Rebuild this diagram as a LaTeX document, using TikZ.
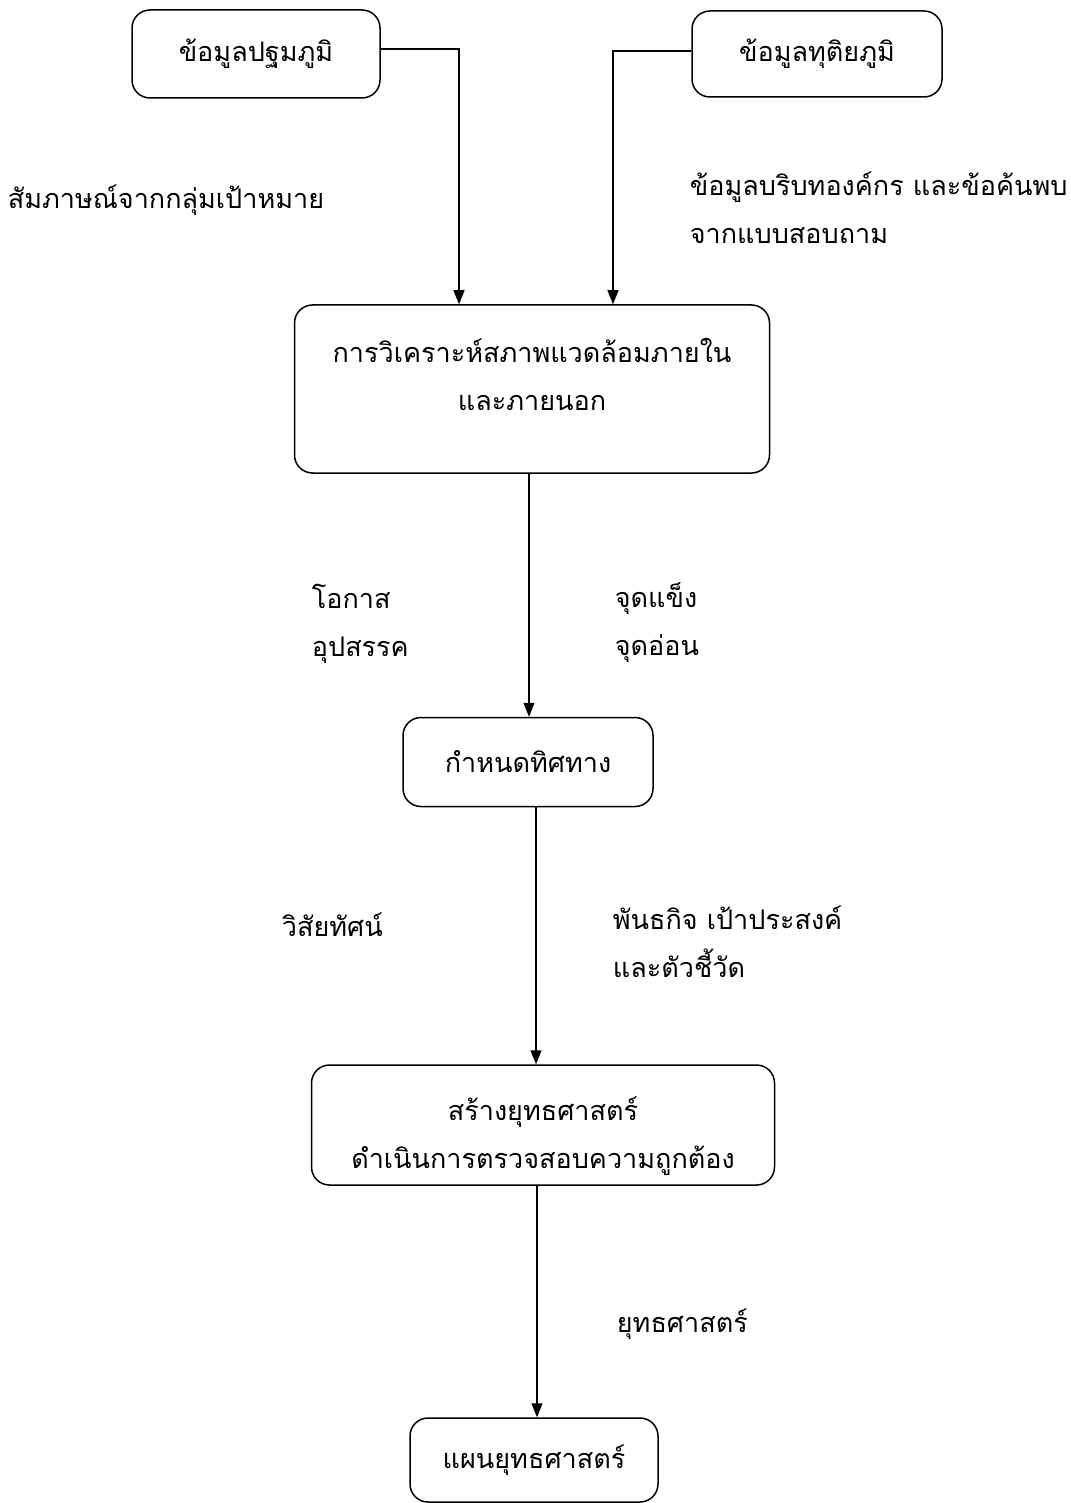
\documentclass[tikz,border=0pt]{standalone}
\usepackage{fontspec}
\usepackage{tikz}
\usetikzlibrary{arrows.meta}
\newfontfamily\thaifont[Script=Thai]{Loma}

\begin{document}
\begin{tikzpicture}[x=1pt,y=-1pt,->,>={Triangle[length=14pt,width=11pt]},line width=1.1pt,
    main node/.style={-,draw,rounded corners=18pt,line width=1.5pt,align=center,font=\thaifont\fontsize{27}{48}\selectfont},
    text node/.style={align=left,anchor=west,font=\thaifont\fontsize{27}{48}\selectfont}]
    \useasboundingbox (0,0) rectangle (1070,1503);

    % boxes
    \node[main node,minimum width=248,minimum height=88] (primary) at (256,54) {ข้อมูลปฐมภูมิ};
    \node[main node,minimum width=250,minimum height=86] (secondary) at (817,54) {ข้อมูลทุติยภูมิ};
    \node[main node,minimum width=475,minimum height=168] (analysis) at (532,389) {};
    \node[main node,draw=none] (analysistext) at (532,374) {การวิเคราะห์สภาพแวดล้อมภายใน\\และภายนอก};
    \node[main node,minimum width=250,minimum height=89] (direction) at (528,762) {กำหนดทิศทาง};
    \node[main node,minimum width=463,minimum height=120] (build) at (543,1125) {};
    \node[main node,draw=none] (buildtext) at (543,1136) {สร้างยุทธศาสตร์\\ดำเนินการตรวจสอบความถูกต้อง};
    \node[main node,minimum width=248,minimum height=84] (plan) at (534,1460) {แผนยุทธศาสตร์};

    % where the lines run
    \coordinate (bendA) at (459,49);
    \coordinate (bendB) at (613,51);
    \coordinate (colA) at (529,0);
    \coordinate (colB) at (536,0);
    \coordinate (colC) at (537,0);

    \draw (primary.east |- bendA) -| (bendA |- analysis.north);
    \draw (secondary.west |- bendB) -| (bendB |- analysis.north);
    \draw (analysis.south -| colA) -- (direction.north -| colA);
    \draw (direction.south -| colB) -- (build.north -| colB);
    \draw (build.south -| colC) -- (plan.north -| colC);

    % labels
    \node[text node] (interview) at (4,200) {สัมภาษณ์จากกลุ่มเป้าหมาย};
    \node[text node] (context) at (686,208) {ข้อมูลบริบทองค์กร และข้อค้นพบ\\จากแบบสอบถาม};
    \node[text node] (threat) at (308,624) {โอกาส\\อุปสรรค};
    \node[text node] (strength) at (611,623) {จุดแข็ง\\จุดอ่อน};
    \node[text node] (vision) at (278,925) {วิสัยทัศน์};
    \node[text node] (mission) at (609,942) {พันธกิจ เป้าประสงค์\\และตัวชี้วัด};
    \node[text node] (strategy) at (613,1324) {ยุทธศาสตร์};
  \end{tikzpicture}
\end{document}
